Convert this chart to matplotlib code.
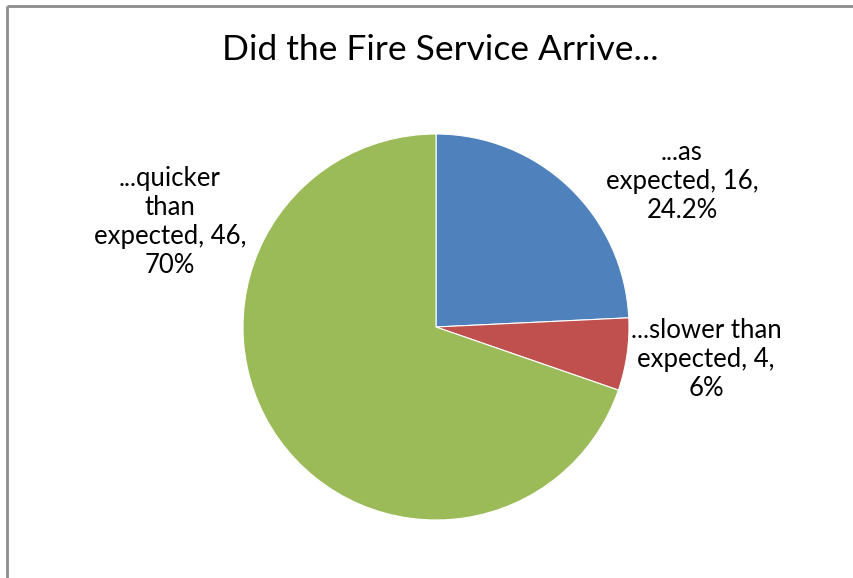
import matplotlib
matplotlib.use("Agg")
import matplotlib.pyplot as plt
from matplotlib.lines import Line2D

# respuestas de la encuesta
categorias = ["...as\nexpected", "...slower than\nexpected", "...quicker\nthan\nexpected"]
valores = [16, 4, 46]
porcentajes = ["24.2%", "6%", "70%"]
colores = ["#4F81BD", "#C0504D", "#9BBB59"]

W, H = 854, 578
plt.rcParams["font.family"] = ["Lato", "DejaVu Sans"]
fig = plt.figure(figsize=(W / 100, H / 100), dpi=100)

# marco gris del área del gráfico: solo borde superior e izquierdo
borde = dict(transform=fig.transFigure, color="#8c8c8c", linewidth=2,
             solid_capstyle="butt")
fig.lines.append(Line2D([7 / W, 1.02], [1 - 6 / H, 1 - 6 / H], **borde))
fig.lines.append(Line2D([7 / W, 7 / W], [-0.02, 1 - 6 / H], **borde))

fig.text(440 / W, 1 - 50 / H, "Did the Fire Service Arrive...", ha="center", va="center",
         fontsize=25.5)

# pastel
cx, cy, r = 436, 327, 193
ax = fig.add_axes([(cx - r) / W, (H - cy - r) / H, 2 * r / W, 2 * r / H])
ax.pie(valores, colors=colores, startangle=90, counterclock=False,
       wedgeprops=dict(edgecolor="white", linewidth=0.8))
ax.set_xlim(-1, 1)
ax.set_ylim(-1, 1)
ax.set_aspect("equal")
ax.axis("off")

# etiquetas: categoría, valor, porcentaje
pos_etiquetas = [(682, 182), (706, 360), (170, 222)]
for cat, v, p, (x, y) in zip(categorias, valores, porcentajes, pos_etiquetas):
    fig.text(x / W, 1 - y / H, f"{cat}, {v},\n{p}", ha="center", va="center",
             fontsize=18.5, linespacing=1.2, multialignment="center")

fig.savefig("out.png", dpi=100)
